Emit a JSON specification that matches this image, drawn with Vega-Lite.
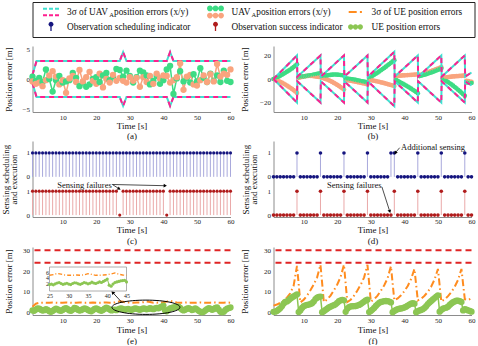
{
"$schema": "https://vega.github.io/schema/vega-lite/v6.json",
"background": "white",
"padding": {"left": 0.5, "top": 1, "right": 0, "bottom": 0},
"config": {
  "font": "Liberation Serif",
  "view": {"stroke": null},
  "axis": {"labelFont": "Liberation Serif", "titleFont": "Liberation Serif", "labelFontSize": 7, "titleFontSize": 9, "titleFontWeight": "normal", "titleColor": "#111", "labelColor": "#222", "domainColor": "#8c8c8c", "domainWidth": 1, "ticks": false, "grid": false, "labelOverlap": false},
  "axisX": {"labelPadding": 2, "titlePadding": 0, "titleLineHeight": 11, "labelFlush": false, "labelOverlap": false},
  "axisY": {"labelPadding": 3, "titlePadding": 7, "minExtent": 12, "maxExtent": 12},
  "text": {"font": "Liberation Serif"}
},
"datasets": {
  "leg": [
    {"id": "e1", "col": 1, "row": 1, "label": "3σ of UAV", "sub": "A", "rest": " position errors (x/y)"},
    {"id": "e2", "col": 2, "row": 1, "label": "UAV", "sub": "A", "rest": " position errors (x/y)"},
    {"id": "e3", "col": 3, "row": 1, "label": "3σ of UE position errors"},
    {"id": "e4", "col": 1, "row": 2, "label": "Observation scheduling indicator"},
    {"id": "e5", "col": 2, "row": 2, "label": "Observation success indicator"},
    {"id": "e6", "col": 3, "row": 2, "label": "UE position errors"}
  ],
  "a_bnd": [{"t":1,"hi":0.7,"lo":-0.7},{"t":2.2,"hi":3,"lo":-3},{"t":27,"hi":3,"lo":-3},{"t":28,"hi":4.5,"lo":-4.5},{"t":29,"hi":3,"lo":-3},{"t":41,"hi":3,"lo":-3},{"t":42,"hi":4.5,"lo":-4.5},{"t":43,"hi":3,"lo":-3},{"t":60,"hi":3,"lo":-3}],
  "a_err": [{"t":1,"x":0.4,"y":-0.4},{"t":2,"x":-0.3,"y":-0.8},{"t":3,"x":0.2,"y":-0.6},{"t":4,"x":-0.5,"y":-1.2},{"t":5,"x":1.6,"y":-0.2},{"t":6,"x":0.0,"y":0.6},{"t":7,"x":-2.1,"y":1.3},{"t":8,"x":-0.2,"y":0.4},{"t":9,"x":0.5,"y":-0.9},{"t":10,"x":-0.6,"y":-0.2},{"t":11,"x":-0.4,"y":-2.3},{"t":12,"x":-0.2,"y":0.1},{"t":13,"x":1.0,"y":0.5},{"t":14,"x":0.2,"y":-0.5},{"t":15,"x":-1.2,"y":1.5},{"t":16,"x":-0.6,"y":-0.4},{"t":17,"x":-1.3,"y":0.3},{"t":18,"x":-0.9,"y":1.2},{"t":19,"x":0.0,"y":-0.3},{"t":20,"x":0.3,"y":-0.8},{"t":21,"x":-0.5,"y":0.9},{"t":22,"x":0.6,"y":-1.4},{"t":23,"x":1.0,"y":0.0},{"t":24,"x":-0.2,"y":-0.6},{"t":25,"x":0.4,"y":0.7},{"t":26,"x":1.7,"y":-0.3},{"t":27,"x":1.5,"y":0.2},{"t":28,"x":0.4,"y":-0.3},{"t":29,"x":1.4,"y":-0.6},{"t":30,"x":0.5,"y":0.3},{"t":31,"x":-0.6,"y":-0.3},{"t":32,"x":0.3,"y":0.2},{"t":33,"x":1.4,"y":-1.3},{"t":34,"x":1.1,"y":0.3},{"t":35,"x":0.6,"y":-0.5},{"t":36,"x":-0.9,"y":0.5},{"t":37,"x":-0.3,"y":-0.8},{"t":38,"x":0.5,"y":0.9},{"t":39,"x":-0.8,"y":0.1},{"t":40,"x":-0.2,"y":0.6},{"t":41,"x":1.6,"y":0.5},{"t":42,"x":2.2,"y":-0.6},{"t":43,"x":-2.5,"y":-0.2},{"t":44,"x":0.1,"y":0.3},{"t":45,"x":1.3,"y":2.6},{"t":46,"x":-0.4,"y":-1.8},{"t":47,"x":0.2,"y":0.4},{"t":48,"x":-0.6,"y":0.7},{"t":49,"x":0.8,"y":-0.9},{"t":50,"x":-0.4,"y":-1.1},{"t":51,"x":1.8,"y":-0.2},{"t":52,"x":0.2,"y":0.6},{"t":53,"x":-0.5,"y":-0.5},{"t":54,"x":0.9,"y":0.8},{"t":55,"x":-0.3,"y":-0.4},{"t":56,"x":0.6,"y":2.5},{"t":57,"x":-0.5,"y":0.4},{"t":58,"x":1.4,"y":0.9},{"t":59,"x":-0.3,"y":0.7},{"t":60,"x":-0.5,"y":1.6}],
  "b_bnd": [{"t":1,"hi":0,"lo":0},{"t":8,"hi":20,"lo":-20},{"t":8.1,"hi":2,"lo":-2},{"t":15,"hi":20,"lo":-20},{"t":15.1,"hi":2,"lo":-2},{"t":22,"hi":20,"lo":-20},{"t":22.1,"hi":2,"lo":-2},{"t":29,"hi":20,"lo":-20},{"t":29.1,"hi":2,"lo":-2},{"t":37,"hi":23,"lo":-23},{"t":37.1,"hi":2,"lo":-2},{"t":44,"hi":20,"lo":-20},{"t":44.1,"hi":2,"lo":-2},{"t":51,"hi":20,"lo":-20},{"t":51.1,"hi":2,"lo":-2},{"t":58,"hi":20,"lo":-20},{"t":58.1,"hi":2,"lo":-2},{"t":60,"hi":5.5,"lo":-5.5}],
  "b_err": [{"t":1,"x":0,"y":0},{"t":1.5,"x":0.6,"y":-0.5},{"t":2,"x":1.3,"y":-1.1},{"t":2.5,"x":2.0,"y":-1.7},{"t":3,"x":2.8,"y":-2.4},{"t":3.5,"x":3.6,"y":-3.1},{"t":4,"x":4.4,"y":-3.9},{"t":4.5,"x":5.3,"y":-4.7},{"t":5,"x":6.2,"y":-5.6},{"t":5.5,"x":7.1,"y":-6.5},{"t":6,"x":8.0,"y":-7.4},{"t":6.5,"x":9.0,"y":-8.4},{"t":7,"x":10.1,"y":-9.5},{"t":7.5,"x":11.3,"y":-10.6},{"t":8,"x":12.5,"y":-11.8},
    {"t":8.5,"x":1.6,"y":1.0},{"t":9,"x":1.9,"y":1.4},{"t":9.5,"x":2.1,"y":1.8},{"t":10,"x":2.3,"y":2.1},{"t":10.5,"x":2.5,"y":2.4},{"t":11,"x":2.7,"y":2.6},{"t":11.5,"x":2.9,"y":2.7},{"t":12,"x":3.1,"y":2.7},{"t":12.5,"x":3.4,"y":2.6},{"t":13,"x":3.7,"y":2.4},{"t":13.5,"x":4.0,"y":2.2},{"t":14,"x":4.3,"y":2.0},{"t":14.5,"x":4.6,"y":1.8},{"t":15,"x":5.0,"y":1.6},
    {"t":15.5,"x":2.4,"y":1.0},{"t":16,"x":2.6,"y":0.6},{"t":16.5,"x":2.9,"y":0.1},{"t":17,"x":3.1,"y":-0.5},{"t":17.5,"x":3.3,"y":-1.1},{"t":18,"x":3.5,"y":-1.8},{"t":18.5,"x":3.7,"y":-2.5},{"t":19,"x":3.8,"y":-3.3},{"t":19.5,"x":3.8,"y":-4.1},{"t":20,"x":3.7,"y":-5.0},{"t":20.5,"x":3.6,"y":-5.9},{"t":21,"x":3.4,"y":-6.9},{"t":21.5,"x":3.2,"y":-7.9},{"t":22,"x":3.0,"y":-9.0},
    {"t":22.5,"x":0.6,"y":-0.8},{"t":23,"x":0.4,"y":-1.0},{"t":23.5,"x":0.2,"y":-1.2},{"t":24,"x":0.0,"y":-1.5},{"t":24.5,"x":-0.2,"y":-1.8},{"t":25,"x":-0.5,"y":-2.0},{"t":25.5,"x":-0.8,"y":-2.3},{"t":26,"x":-1.1,"y":-2.6},{"t":26.5,"x":-1.4,"y":-2.9},{"t":27,"x":-1.7,"y":-3.2},{"t":27.5,"x":-2.0,"y":-3.5},{"t":28,"x":-2.3,"y":-3.8},{"t":28.5,"x":-2.6,"y":-4.1},{"t":29,"x":-2.9,"y":-4.4},
    {"t":29.5,"x":1.0,"y":-0.6},{"t":30,"x":1.8,"y":-0.9},{"t":30.5,"x":2.7,"y":-1.2},{"t":31,"x":3.6,"y":-1.5},{"t":31.5,"x":4.5,"y":-1.8},{"t":32,"x":5.4,"y":-2.1},{"t":32.5,"x":6.4,"y":-2.4},{"t":33,"x":7.4,"y":-2.8},{"t":33.5,"x":8.4,"y":-3.1},{"t":34,"x":9.4,"y":-3.5},{"t":34.5,"x":10.5,"y":-3.9},{"t":35,"x":11.6,"y":-4.3},{"t":35.5,"x":12.7,"y":-4.7},{"t":36,"x":13.8,"y":-5.1},{"t":36.5,"x":14.9,"y":-5.5},{"t":37,"x":16.0,"y":-6.0},
    {"t":37.5,"x":-0.8,"y":2.6},{"t":38,"x":-1.6,"y":2.7},{"t":38.5,"x":-2.4,"y":2.8},{"t":39,"x":-3.2,"y":2.9},{"t":39.5,"x":-4.0,"y":3.0},{"t":40,"x":-4.8,"y":3.1},{"t":40.5,"x":-5.6,"y":3.2},{"t":41,"x":-6.4,"y":3.3},{"t":41.5,"x":-7.3,"y":3.4},{"t":42,"x":-8.2,"y":3.5},{"t":42.5,"x":-9.1,"y":3.6},{"t":43,"x":-10.0,"y":3.7},{"t":43.5,"x":-11.0,"y":3.8},{"t":44,"x":-12.0,"y":4.0},
    {"t":44.5,"x":2.5,"y":3.3},{"t":45,"x":2.9,"y":3.8},{"t":45.5,"x":3.3,"y":4.3},{"t":46,"x":3.7,"y":4.8},{"t":46.5,"x":4.1,"y":5.3},{"t":47,"x":4.6,"y":5.8},{"t":47.5,"x":5.1,"y":6.3},{"t":48,"x":5.6,"y":6.8},{"t":48.5,"x":6.1,"y":7.3},{"t":49,"x":6.6,"y":7.8},{"t":49.5,"x":7.2,"y":8.4},{"t":50,"x":7.8,"y":8.9},{"t":50.5,"x":8.4,"y":9.4},{"t":51,"x":9.0,"y":10.0},
    {"t":51.5,"x":0.4,"y":1.0},{"t":52,"x":-0.6,"y":1.2},{"t":52.5,"x":-1.6,"y":1.4},{"t":53,"x":-2.6,"y":1.6},{"t":53.5,"x":-3.6,"y":1.8},{"t":54,"x":-4.6,"y":2.0},{"t":54.5,"x":-5.7,"y":2.2},{"t":55,"x":-6.8,"y":2.3},{"t":55.5,"x":-7.9,"y":2.4},{"t":56,"x":-9.1,"y":2.5},{"t":56.5,"x":-10.3,"y":2.6},{"t":57,"x":-11.6,"y":2.7},{"t":57.5,"x":-12.9,"y":2.8},{"t":58,"x":-14.3,"y":2.9},
    {"t":58.5,"x":-2.8,"y":-1.5},{"t":59,"x":-3.0,"y":-1.8},{"t":59.5,"x":-3.2,"y":-2.1},{"t":60,"x":-3.4,"y":-2.4}],
  "c_st": [{"t":1,"sched":1,"ok":1},{"t":2,"sched":1,"ok":1},{"t":3,"sched":1,"ok":1},{"t":4,"sched":1,"ok":1},{"t":5,"sched":1,"ok":1},{"t":6,"sched":1,"ok":1},{"t":7,"sched":1,"ok":1},{"t":8,"sched":1,"ok":1},{"t":9,"sched":1,"ok":1},{"t":10,"sched":1,"ok":1},{"t":11,"sched":1,"ok":1},{"t":12,"sched":1,"ok":1},{"t":13,"sched":1,"ok":1},{"t":14,"sched":1,"ok":1},{"t":15,"sched":1,"ok":1},{"t":16,"sched":1,"ok":1},{"t":17,"sched":1,"ok":1},{"t":18,"sched":1,"ok":1},{"t":19,"sched":1,"ok":1},{"t":20,"sched":1,"ok":1},{"t":21,"sched":1,"ok":1},{"t":22,"sched":1,"ok":1},{"t":23,"sched":1,"ok":1},{"t":24,"sched":1,"ok":1},{"t":25,"sched":1,"ok":1},{"t":26,"sched":1,"ok":1},{"t":27,"sched":1,"ok":0},{"t":28,"sched":1,"ok":1},{"t":29,"sched":1,"ok":1},{"t":30,"sched":1,"ok":1},{"t":31,"sched":1,"ok":1},{"t":32,"sched":1,"ok":1},{"t":33,"sched":1,"ok":1},{"t":34,"sched":1,"ok":1},{"t":35,"sched":1,"ok":1},{"t":36,"sched":1,"ok":1},{"t":37,"sched":1,"ok":1},{"t":38,"sched":1,"ok":1},{"t":39,"sched":1,"ok":1},{"t":40,"sched":1,"ok":1},{"t":41,"sched":1,"ok":0},{"t":42,"sched":1,"ok":1},{"t":43,"sched":1,"ok":1},{"t":44,"sched":1,"ok":1},{"t":45,"sched":1,"ok":1},{"t":46,"sched":1,"ok":1},{"t":47,"sched":1,"ok":1},{"t":48,"sched":1,"ok":1},{"t":49,"sched":1,"ok":1},{"t":50,"sched":1,"ok":1},{"t":51,"sched":1,"ok":1},{"t":52,"sched":1,"ok":1},{"t":53,"sched":1,"ok":1},{"t":54,"sched":1,"ok":1},{"t":55,"sched":1,"ok":1},{"t":56,"sched":1,"ok":1},{"t":57,"sched":1,"ok":1},{"t":58,"sched":1,"ok":1},{"t":59,"sched":1,"ok":1},{"t":60,"sched":1,"ok":1}],
  "c_txt": [{"t":16.5,"v":1.27,"label":"Sensing failures"}],
  "c_arr": [{"id":1,"t":24.8,"v":1.28,"t2":26.7,"v2":1.11},{"id":2,"t":24.8,"v":1.28,"t2":40.4,"v2":1.23}],
  "d_st": [{"t":1,"sched":0,"ok":0},{"t":2,"sched":0,"ok":0},{"t":3,"sched":0,"ok":0},{"t":4,"sched":0,"ok":0},{"t":5,"sched":0,"ok":0},{"t":6,"sched":0,"ok":0},{"t":7,"sched":0,"ok":0},{"t":8,"sched":1,"ok":1},{"t":9,"sched":0,"ok":0},{"t":10,"sched":0,"ok":0},{"t":11,"sched":0,"ok":0},{"t":12,"sched":0,"ok":0},{"t":13,"sched":0,"ok":0},{"t":14,"sched":0,"ok":0},{"t":15,"sched":1,"ok":1},{"t":16,"sched":0,"ok":0},{"t":17,"sched":0,"ok":0},{"t":18,"sched":0,"ok":0},{"t":19,"sched":0,"ok":0},{"t":20,"sched":0,"ok":0},{"t":21,"sched":0,"ok":0},{"t":22,"sched":1,"ok":1},{"t":23,"sched":0,"ok":0},{"t":24,"sched":0,"ok":0},{"t":25,"sched":0,"ok":0},{"t":26,"sched":0,"ok":0},{"t":27,"sched":0,"ok":0},{"t":28,"sched":0,"ok":0},{"t":29,"sched":1,"ok":1},{"t":30,"sched":0,"ok":0},{"t":31,"sched":0,"ok":0},{"t":32,"sched":0,"ok":0},{"t":33,"sched":0,"ok":0},{"t":34,"sched":0,"ok":0},{"t":35,"sched":0,"ok":0},{"t":36,"sched":1,"ok":0},{"t":37,"sched":1,"ok":1},{"t":38,"sched":0,"ok":0},{"t":39,"sched":0,"ok":0},{"t":40,"sched":0,"ok":0},{"t":41,"sched":0,"ok":0},{"t":42,"sched":0,"ok":0},{"t":43,"sched":0,"ok":0},{"t":44,"sched":1,"ok":1},{"t":45,"sched":0,"ok":0},{"t":46,"sched":0,"ok":0},{"t":47,"sched":0,"ok":0},{"t":48,"sched":0,"ok":0},{"t":49,"sched":0,"ok":0},{"t":50,"sched":0,"ok":0},{"t":51,"sched":1,"ok":1},{"t":52,"sched":0,"ok":0},{"t":53,"sched":0,"ok":0},{"t":54,"sched":0,"ok":0},{"t":55,"sched":0,"ok":0},{"t":56,"sched":0,"ok":0},{"t":57,"sched":0,"ok":0},{"t":58,"sched":1,"ok":1},{"t":59,"sched":0,"ok":0},{"t":60,"sched":0,"ok":0}],
  "d_txt": [{"grp":"b","t":39.0,"v":1.25,"label":"Additional sensing"},{"grp":"r","t":25.1,"v":1.27,"label":"Sensing failures"}],
  "d_arr": [{"grp":"b","t":38.6,"v":1.22,"t2":37.4,"v2":1.02},{"grp":"r","t":33.3,"v":1.18,"t2":35.6,"v2":0.17}],
  "lim": [{"v":30},{"v":24}],
  "e_sig": [{"t":1,"v":3.0},{"t":2,"v":4.4},{"t":3,"v":4.8},{"t":4,"v":4.9},{"t":5,"v":4.8},{"t":6,"v":4.9},{"t":7,"v":5.0},{"t":8,"v":4.9},{"t":9,"v":4.8},{"t":10,"v":4.9},{"t":11,"v":5.0},{"t":12,"v":4.9},{"t":13,"v":4.8},{"t":14,"v":4.9},{"t":15,"v":5.0},{"t":16,"v":4.9},{"t":17,"v":4.8},{"t":18,"v":4.9},{"t":19,"v":5.0},{"t":20,"v":4.9},{"t":21,"v":4.8},{"t":22,"v":4.9},{"t":23,"v":5.0},{"t":24,"v":4.9},{"t":25,"v":4.9},{"t":26,"v":5.1},{"t":27,"v":5.6},{"t":28,"v":5.3},{"t":29,"v":5.0},{"t":30,"v":4.9},{"t":31,"v":4.9},{"t":32,"v":5.0},{"t":33,"v":4.9},{"t":34,"v":5.1},{"t":35,"v":5.5},{"t":36,"v":5.2},{"t":37,"v":4.9},{"t":38,"v":4.9},{"t":39,"v":5.0},{"t":40,"v":5.1},{"t":41,"v":5.4},{"t":42,"v":5.8},{"t":43,"v":5.3},{"t":44,"v":5.0},{"t":45,"v":4.9},{"t":46,"v":4.9},{"t":47,"v":5.0},{"t":48,"v":4.9},{"t":49,"v":4.8},{"t":50,"v":4.9},{"t":51,"v":5.0},{"t":52,"v":4.9},{"t":53,"v":4.8},{"t":54,"v":4.9},{"t":55,"v":5.0},{"t":56,"v":4.9},{"t":57,"v":4.8},{"t":58,"v":4.9},{"t":59,"v":5.0},{"t":60,"v":4.9}],
  "e_err": [{"t":1,"v":1.2},{"t":1.5,"v":1.0},{"t":2,"v":1.6},{"t":2.5,"v":2.2},{"t":3,"v":2.0},{"t":3.5,"v":1.5},{"t":4,"v":1.1},{"t":4.5,"v":1.3},{"t":5,"v":1.8},{"t":5.5,"v":1.4},{"t":6,"v":0.8},{"t":6.5,"v":0.5},{"t":7,"v":0.9},{"t":7.5,"v":1.5},{"t":8,"v":2.0},{"t":8.5,"v":1.7},{"t":9,"v":1.2},{"t":9.5,"v":1.0},{"t":10,"v":1.4},{"t":10.5,"v":2.0},{"t":11,"v":2.3},{"t":11.5,"v":1.8},{"t":12,"v":1.2},{"t":12.5,"v":1.0},{"t":13,"v":1.6},{"t":13.5,"v":2.4},{"t":14,"v":2.1},{"t":14.5,"v":1.5},{"t":15,"v":1.1},{"t":15.5,"v":1.3},{"t":16,"v":1.8},{"t":16.5,"v":2.2},{"t":17,"v":1.9},{"t":17.5,"v":1.4},{"t":18,"v":1.0},{"t":18.5,"v":0.8},{"t":19,"v":1.3},{"t":19.5,"v":1.9},{"t":20,"v":2.2},{"t":20.5,"v":1.8},{"t":21,"v":1.3},{"t":21.5,"v":1.0},{"t":22,"v":1.4},{"t":22.5,"v":2.0},{"t":23,"v":2.5},{"t":23.5,"v":2.1},{"t":24,"v":1.6},{"t":24.5,"v":1.2},{"t":25,"v":1.4},{"t":25.5,"v":1.6},{"t":26,"v":1.3},{"t":26.5,"v":1.7},{"t":27,"v":2.0},{"t":27.5,"v":2.2},{"t":28,"v":1.8},{"t":28.5,"v":1.5},{"t":29,"v":1.7},{"t":29.5,"v":1.9},{"t":30,"v":1.6},{"t":30.5,"v":1.4},{"t":31,"v":1.8},{"t":31.5,"v":2.1},{"t":32,"v":2.0},{"t":32.5,"v":1.7},{"t":33,"v":1.5},{"t":33.5,"v":1.8},{"t":34,"v":2.2},{"t":34.5,"v":2.0},{"t":35,"v":1.7},{"t":35.5,"v":1.9},{"t":36,"v":2.3},{"t":36.5,"v":2.0},{"t":37,"v":1.8},{"t":37.5,"v":2.1},{"t":38,"v":2.4},{"t":38.5,"v":2.2},{"t":39,"v":2.6},{"t":39.5,"v":3.0},{"t":40,"v":3.5},{"t":40.5,"v":1.2},{"t":41,"v":0.8},{"t":41.5,"v":1.6},{"t":42,"v":2.2},{"t":42.5,"v":2.4},{"t":43,"v":2.6},{"t":43.5,"v":2.8},{"t":44,"v":2.9},{"t":44.5,"v":3.0},{"t":45,"v":2.4},{"t":45.5,"v":1.6},{"t":46,"v":1.2},{"t":46.5,"v":1.5},{"t":47,"v":2.0},{"t":47.5,"v":2.3},{"t":48,"v":1.9},{"t":48.5,"v":1.4},{"t":49,"v":1.6},{"t":49.5,"v":2.1},{"t":50,"v":1.7},{"t":50.5,"v":1.0},{"t":51,"v":0.6},{"t":51.5,"v":0.3},{"t":52,"v":0.5},{"t":52.5,"v":1.2},{"t":53,"v":1.8},{"t":53.5,"v":2.3},{"t":54,"v":2.0},{"t":54.5,"v":1.5},{"t":55,"v":1.8},{"t":55.5,"v":2.4},{"t":56,"v":2.6},{"t":56.5,"v":1.5},{"t":57,"v":0.5},{"t":57.5,"v":0.3},{"t":58,"v":0.6},{"t":58.5,"v":1.4},{"t":59,"v":2.0},{"t":59.5,"v":2.3},{"t":60,"v":2.6}],
  "e_ann": [{"kind":"ellipse","t":34.8,"v":2.7},{"kind":"arrow","t":27.7,"v":4.9,"t2":25.0,"v2":9.6}],
  "f_sig": [{"t":1,"v":3.5},{"t":2,"v":4.0},{"t":3,"v":4.8},{"t":4,"v":5.8},{"t":5,"v":7.3},{"t":6,"v":9.4},{"t":7,"v":13.0},{"t":8,"v":22.5},{"t":9,"v":5.0},{"t":10,"v":6.3},{"t":11,"v":8.3},{"t":12,"v":10.8},{"t":13,"v":13.6},{"t":14,"v":17.0},{"t":15,"v":23.0},{"t":16,"v":5.2},{"t":17,"v":6.4},{"t":18,"v":8.3},{"t":19,"v":10.8},{"t":20,"v":13.6},{"t":21,"v":17.2},{"t":22,"v":23.0},{"t":23,"v":5.2},{"t":24,"v":6.3},{"t":25,"v":8.2},{"t":26,"v":10.7},{"t":27,"v":13.5},{"t":28,"v":17.0},{"t":29,"v":23.0},{"t":30,"v":5.4},{"t":31,"v":6.5},{"t":32,"v":8.3},{"t":33,"v":10.6},{"t":34,"v":13.2},{"t":35,"v":16.6},{"t":36,"v":22.3},{"t":37,"v":6.0},{"t":38,"v":6.9},{"t":39,"v":8.4},{"t":40,"v":10.4},{"t":41,"v":12.9},{"t":42,"v":16.2},{"t":43,"v":21.0},{"t":44,"v":6.0},{"t":45,"v":6.8},{"t":46,"v":8.2},{"t":47,"v":10.1},{"t":48,"v":12.6},{"t":49,"v":16.0},{"t":50,"v":21.0},{"t":51,"v":5.5},{"t":52,"v":6.4},{"t":53,"v":8.0},{"t":54,"v":10.0},{"t":55,"v":12.5},{"t":56,"v":15.8},{"t":57,"v":21.0},{"t":58,"v":6.6},{"t":59,"v":6.2},{"t":60,"v":7.0}],
  "f_err": [{"t":1,"v":0.5},{"t":1.5,"v":0.6},{"t":2,"v":0.9},{"t":2.5,"v":1.5},{"t":3,"v":2.2},{"t":3.5,"v":3.2},{"t":4,"v":4.4},{"t":4.5,"v":5.2},{"t":5,"v":5.5},{"t":5.5,"v":6.0},{"t":6,"v":6.8},{"t":6.5,"v":7.4},{"t":7,"v":7.9},{"t":7.5,"v":8.4},{"t":8,"v":8.8},{"t":8.5,"v":0.4},{"t":9,"v":1.2},{"t":9.5,"v":2.4},{"t":10,"v":3.2},{"t":10.5,"v":3.6},{"t":11,"v":3.8},{"t":11.5,"v":4.0},{"t":12,"v":4.2},{"t":12.5,"v":4.6},{"t":13,"v":5.4},{"t":13.5,"v":6.6},{"t":14,"v":7.3},{"t":14.5,"v":7.6},{"t":15,"v":7.8},{"t":15.5,"v":0.3},{"t":16,"v":0.8},{"t":16.5,"v":1.4},{"t":17,"v":2.0},{"t":17.5,"v":2.6},{"t":18,"v":3.0},{"t":18.5,"v":3.4},{"t":19,"v":3.7},{"t":19.5,"v":4.1},{"t":20,"v":4.8},{"t":20.5,"v":5.6},{"t":21,"v":6.0},{"t":21.5,"v":6.2},{"t":22,"v":6.0},{"t":22.5,"v":0.5},{"t":23,"v":2.0},{"t":23.5,"v":2.8},{"t":24,"v":3.1},{"t":24.5,"v":3.2},{"t":25,"v":3.2},{"t":25.5,"v":3.3},{"t":26,"v":3.5},{"t":26.5,"v":3.8},{"t":27,"v":4.2},{"t":27.5,"v":4.8},{"t":28,"v":5.4},{"t":28.5,"v":6.0},{"t":29,"v":6.3},{"t":29.5,"v":0.4},{"t":30,"v":0.9},{"t":30.5,"v":1.6},{"t":31,"v":2.4},{"t":31.5,"v":3.3},{"t":32,"v":4.1},{"t":32.5,"v":4.8},{"t":33,"v":5.2},{"t":33.5,"v":5.4},{"t":34,"v":5.6},{"t":34.5,"v":5.7},{"t":35,"v":5.6},{"t":35.5,"v":5.4},{"t":36,"v":5.0},{"t":36.5,"v":0.3},{"t":37,"v":0.9},{"t":37.5,"v":1.4},{"t":38,"v":1.8},{"t":38.5,"v":2.0},{"t":39,"v":2.1},{"t":39.5,"v":2.3},{"t":40,"v":2.6},{"t":40.5,"v":3.0},{"t":41,"v":3.5},{"t":41.5,"v":4.0},{"t":42,"v":4.4},{"t":42.5,"v":4.6},{"t":43,"v":4.4},{"t":43.5,"v":0.3},{"t":44,"v":0.8},{"t":44.5,"v":1.2},{"t":45,"v":1.4},{"t":45.5,"v":1.8},{"t":46,"v":2.4},{"t":46.5,"v":3.2},{"t":47,"v":4.2},{"t":47.5,"v":5.0},{"t":48,"v":5.7},{"t":48.5,"v":6.4},{"t":49,"v":7.1},{"t":49.5,"v":7.8},{"t":50,"v":8.4},{"t":50.5,"v":0.6},{"t":51,"v":1.4},{"t":51.5,"v":2.0},{"t":52,"v":2.3},{"t":52.5,"v":2.5},{"t":53,"v":3.0},{"t":53.5,"v":3.8},{"t":54,"v":4.5},{"t":54.5,"v":5.1},{"t":55,"v":5.5},{"t":55.5,"v":5.8},{"t":56,"v":5.9},{"t":56.5,"v":5.6},{"t":57,"v":5.2},{"t":57.5,"v":1.2},{"t":58,"v":1.8},{"t":58.5,"v":1.6},{"t":59,"v":1.2},{"t":59.5,"v":0.9},{"t":60,"v":0.6}]
},
"align": "none",
"spacing": 6,
"vconcat": [
  {
    "width": 442, "height": 35,
    "view": {"stroke": "#222", "strokeWidth": 1},
    "data": {"name": "leg"},
    "encoding": {
      "x": {"field": "col", "type": "quantitative", "scale": {"domain": [1,2,3], "range": [18.5,183,323], "nice": false, "zero": false}, "axis": null},
      "y": {"field": "row", "type": "quantitative", "scale": {"domain": [1,2], "range": [10,25], "nice": false, "zero": false}, "axis": {"title": ["x","x"], "titleOpacity": 0, "labelOpacity": 0, "domain": false, "values": [1,2], "tickCount": 20, "titlePadding": 2.5, "titleLineHeight": 8}}
    },
    "layer": [
      {"transform": [{"filter": "datum.id=='e1'"}], "mark": {"type": "point", "shape": "M-1,-0.41H-0.5M-0.25,-0.41H0.25M0.5,-0.41H1", "size": 256, "filled": false, "stroke": "#3fe0d0", "strokeWidth": 2, "opacity": 1}},
      {"transform": [{"filter": "datum.id=='e1'"}], "mark": {"type": "point", "shape": "M-1,0.41H-0.5M-0.25,0.41H0.25M0.5,0.41H1", "size": 256, "filled": false, "stroke": "#ff1f8f", "strokeWidth": 2, "opacity": 1}},
      {"transform": [{"filter": "datum.id=='e2'"}], "mark": {"type": "point", "shape": "M-1.06,-0.44a0.36,0.36 0 1,0 0.72,0a0.36,0.36 0 1,0 -0.72,0M-0.36,-0.44a0.36,0.36 0 1,0 0.72,0a0.36,0.36 0 1,0 -0.72,0M0.34,-0.44a0.36,0.36 0 1,0 0.72,0a0.36,0.36 0 1,0 -0.72,0", "size": 256, "filled": true, "fill": "#3ddc84", "strokeWidth": 0, "opacity": 1}},
      {"transform": [{"filter": "datum.id=='e2'"}], "mark": {"type": "point", "shape": "M-1.06,0.44a0.36,0.36 0 1,0 0.72,0a0.36,0.36 0 1,0 -0.72,0M-0.36,0.44a0.36,0.36 0 1,0 0.72,0a0.36,0.36 0 1,0 -0.72,0M0.34,0.44a0.36,0.36 0 1,0 0.72,0a0.36,0.36 0 1,0 -0.72,0", "size": 256, "filled": true, "fill": "#f9a47e", "strokeWidth": 0, "opacity": 1}},
      {"transform": [{"filter": "datum.id=='e3'"}], "mark": {"type": "point", "shape": "M-0.85,0H0.15M0.55,0H0.8", "size": 256, "filled": false, "stroke": "#ff8c1f", "strokeWidth": 2, "opacity": 1}},
      {"transform": [{"filter": "datum.id=='e4'"}], "mark": {"type": "point", "shape": "M0,-0.35V0.5", "size": 256, "filled": false, "stroke": "#15157f", "strokeWidth": 1.3, "opacity": 1}},
      {"transform": [{"filter": "datum.id=='e4'"}], "mark": {"type": "point", "shape": "M-0.3,-0.35a0.3,0.3 0 1,0 0.6,0a0.3,0.3 0 1,0 -0.6,0", "size": 256, "filled": true, "fill": "#15157f", "strokeWidth": 0, "opacity": 1}},
      {"transform": [{"filter": "datum.id=='e5'"}], "mark": {"type": "point", "shape": "M0,-0.35V0.5", "size": 256, "filled": false, "stroke": "#b01c1c", "strokeWidth": 1.3, "opacity": 1}},
      {"transform": [{"filter": "datum.id=='e5'"}], "mark": {"type": "point", "shape": "M-0.3,-0.35a0.3,0.3 0 1,0 0.6,0a0.3,0.3 0 1,0 -0.6,0", "size": 256, "filled": true, "fill": "#b01c1c", "strokeWidth": 0, "opacity": 1}},
      {"transform": [{"filter": "datum.id=='e6'"}], "mark": {"type": "point", "shape": "M-0.93,0a0.33,0.33 0 1,0 0.66,0a0.33,0.33 0 1,0 -0.66,0M-0.33,0a0.33,0.33 0 1,0 0.66,0a0.33,0.33 0 1,0 -0.66,0M0.27,0a0.33,0.33 0 1,0 0.66,0a0.33,0.33 0 1,0 -0.66,0", "size": 256, "filled": true, "fill": "#8cc653", "strokeWidth": 0, "opacity": 1}},
      {"mark": {"type": "text", "align": "left", "baseline": "middle", "dx": 16, "fontSize": 9.3, "color": "#111"}, "encoding": {"text": {"field": "label"}}},
      {"transform": [{"filter": "datum.id=='e1'"}], "mark": {"type": "text", "align": "left", "baseline": "middle", "dx": 58.3, "dy": 2.5, "fontSize": 6.5, "color": "#111"}, "encoding": {"text": {"field": "sub"}}},
      {"transform": [{"filter": "datum.id=='e1'"}], "mark": {"type": "text", "align": "left", "baseline": "middle", "dx": 63, "fontSize": 9.3, "color": "#111"}, "encoding": {"text": {"field": "rest"}}},
      {"transform": [{"filter": "datum.id=='e2'"}], "mark": {"type": "text", "align": "left", "baseline": "middle", "dx": 36.1, "dy": 2.5, "fontSize": 6.5, "color": "#111"}, "encoding": {"text": {"field": "sub"}}},
      {"transform": [{"filter": "datum.id=='e2'"}], "mark": {"type": "text", "align": "left", "baseline": "middle", "dx": 40.8, "fontSize": 9.3, "color": "#111"}, "encoding": {"text": {"field": "rest"}}}
    ]
  },
  {
    "columns": 2,
    "spacing": {"row": 0, "column": 5},
    "concat": [
      {
        "width": 198, "height": 66,
        "encoding": {
          "x": {"field": "t", "type": "quantitative", "scale": {"domain": [1,60], "nice": false, "zero": false}, "axis": {"title": ["Time [s]","(a)"], "values": [10,20,30,40,50,60], "tickCount": 20, "labelOverlap": false, "labelPadding": 1.5, "titlePadding": 0.8, "titleLineHeight": 10}},
          "y": {"field": "v", "type": "quantitative", "scale": {"domain": [-5.5,5.5], "nice": false, "zero": false}, "axis": {"title": "Position error [m]", "values": [-5,0,5], "tickCount": 20, "format": "d"}}
        },
        "layer": [
          {"data": {"name": "a_bnd"}, "transform": [{"fold": ["hi","lo"], "as": ["b","v"]}], "mark": {"type": "line", "color": "#3fe0d0", "strokeWidth": 2}, "encoding": {"detail": {"field": "b", "type": "nominal"}}},
          {"data": {"name": "a_bnd"}, "transform": [{"fold": ["hi","lo"], "as": ["b","v"]}], "mark": {"type": "line", "color": "#ff1f8f", "strokeWidth": 2, "strokeDash": [5,4]}, "encoding": {"detail": {"field": "b", "type": "nominal"}}},
          {"data": {"name": "a_err"}, "transform": [{"fold": ["x","y"], "as": ["s","v"]}], "mark": {"type": "line", "strokeWidth": 1.5}, "encoding": {"color": {"field": "s", "type": "nominal", "scale": {"domain": ["x","y"], "range": ["#3ddc84","#f9a47e"]}, "legend": null}}},
          {"data": {"name": "a_err"}, "transform": [{"fold": ["x","y"], "as": ["s","v"]}], "mark": {"type": "point", "filled": true, "size": 40, "opacity": 1}, "encoding": {"color": {"field": "s", "type": "nominal", "scale": {"domain": ["x","y"], "range": ["#3ddc84","#f9a47e"]}, "legend": null}}}
        ]
      },
      {
        "width": 198, "height": 66,
        "encoding": {
          "x": {"field": "t", "type": "quantitative", "scale": {"domain": [1,60], "nice": false, "zero": false}, "axis": {"title": ["Time [s]","(b)"], "values": [10,20,30,40,50,60], "tickCount": 20, "labelOverlap": false, "labelPadding": 1.5, "titlePadding": 0.8, "titleLineHeight": 10}},
          "y": {"field": "v", "type": "quantitative", "scale": {"domain": [-28,28], "nice": false, "zero": false}, "axis": {"title": "Position error [m]", "values": [-20,0,20], "tickCount": 20, "format": "d", "titlePadding": 12.1}}
        },
        "layer": [
          {"data": {"name": "b_err"}, "transform": [{"fold": ["y","x"], "as": ["s","v"]}], "mark": {"type": "point", "filled": true, "size": 22, "opacity": 1}, "encoding": {"color": {"field": "s", "type": "nominal", "scale": {"domain": ["x","y"], "range": ["#3ddc84","#f9a47e"]}, "legend": null}}},
          {"data": {"name": "b_bnd"}, "transform": [{"fold": ["hi","lo"], "as": ["b","v"]}], "mark": {"type": "line", "color": "#3fe0d0", "strokeWidth": 2}, "encoding": {"detail": {"field": "b", "type": "nominal"}}},
          {"data": {"name": "b_bnd"}, "transform": [{"fold": ["hi","lo"], "as": ["b","v"]}], "mark": {"type": "line", "color": "#ff1f8f", "strokeWidth": 2, "strokeDash": [5,4]}, "encoding": {"detail": {"field": "b", "type": "nominal"}}}
        ]
      },
      {
        "width": 198, "height": 76,
        "resolve": {"scale": {"y": "independent"}},
        "layer": [
          {
            "data": {"name": "c_st"},
            "encoding": {"y": {"field": "sched", "type": "quantitative", "scale": {"domain": [-1.68,1.5], "nice": false, "zero": false}, "axis": {"orient": "left", "values": [0,1], "tickCount": 20, "format": "d", "title": null, "domain": false}}},
            "layer": [
              {"mark": {"type": "rule", "color": "#a9a9dc", "strokeWidth": 1}, "encoding": {"x": {"field": "t", "type": "quantitative", "scale": {"domain": [1,60], "nice": false, "zero": false}, "axis": {"title": ["Time [s]","(c)"], "values": [10,20,30,40,50,60], "tickCount": 20, "labelOverlap": false, "labelPadding": 0.5, "titlePadding": 1.2, "titleLineHeight": 10.5}}, "y2": {"datum": 0}}},
              {"mark": {"type": "point", "filled": true, "size": 10, "opacity": 1, "color": "#15157f"}, "encoding": {"x": {"field": "t", "type": "quantitative", "scale": {"domain": [1,60], "nice": false, "zero": false}}}}
            ]
          },
          {
            "encoding": {"y": {"field": "ok", "type": "quantitative", "scale": {"domain": [-0.08,3.1], "nice": false, "zero": false}, "axis": {"orient": "left", "values": [0,1], "tickCount": 20, "format": "d", "title": ["Sensing scheduling","and execution"], "titlePadding": 1.7, "titleLineHeight": 8}}},
            "layer": [
              {"data": {"name": "c_st"}, "mark": {"type": "rule", "color": "#eaa9a9", "strokeWidth": 1}, "encoding": {"x": {"field": "t", "type": "quantitative", "scale": {"domain": [1,60], "nice": false, "zero": false}}, "y2": {"datum": 0}}},
              {"data": {"name": "c_st"}, "mark": {"type": "point", "filled": true, "size": 10, "opacity": 1, "color": "#b01c1c"}, "encoding": {"x": {"field": "t", "type": "quantitative", "scale": {"domain": [1,60], "nice": false, "zero": false}}}},
              {"data": {"name": "c_txt"}, "mark": {"type": "text", "fontSize": 8.5, "baseline": "middle", "color": "#111"}, "encoding": {"x": {"field": "t", "type": "quantitative", "scale": {"domain": [1,60], "nice": false, "zero": false}}, "y": {"field": "v", "type": "quantitative", "scale": {"domain": [-0.08,3.1], "nice": false, "zero": false}}, "text": {"field": "label"}}},
              {"data": {"name": "c_arr"}, "mark": {"type": "rule", "color": "#000", "strokeWidth": 0.7}, "encoding": {"x": {"field": "t", "type": "quantitative", "scale": {"domain": [1,60], "nice": false, "zero": false}}, "x2": {"field": "t2"}, "y": {"field": "v", "type": "quantitative", "scale": {"domain": [-0.08,3.1], "nice": false, "zero": false}}, "y2": {"field": "v2"}}},
              {"data": {"name": "c_arr"}, "transform": [{"filter": "datum.id==1"}], "mark": {"type": "point", "shape": "triangle", "angle": 121.6, "filled": true, "size": 14, "opacity": 1, "color": "#000"}, "encoding": {"x": {"field": "t2", "type": "quantitative", "scale": {"domain": [1,60], "nice": false, "zero": false}}, "y": {"field": "v2", "type": "quantitative", "scale": {"domain": [-0.08,3.1], "nice": false, "zero": false}}}},
              {"data": {"name": "c_arr"}, "transform": [{"filter": "datum.id==2"}], "mark": {"type": "point", "shape": "triangle", "angle": 93.1, "filled": true, "size": 14, "opacity": 1, "color": "#000"}, "encoding": {"x": {"field": "t2", "type": "quantitative", "scale": {"domain": [1,60], "nice": false, "zero": false}}, "y": {"field": "v2", "type": "quantitative", "scale": {"domain": [-0.08,3.1], "nice": false, "zero": false}}}}
            ]
          }
        ]
      },
      {
        "width": 198, "height": 76,
        "resolve": {"scale": {"y": "independent"}},
        "layer": [
          {
            "encoding": {"y": {"field": "sched", "type": "quantitative", "scale": {"domain": [-1.68,1.5], "nice": false, "zero": false}, "axis": {"orient": "left", "values": [0,1], "tickCount": 20, "format": "d", "title": null, "domain": false}}},
            "layer": [
              {"data": {"name": "d_st"}, "mark": {"type": "rule", "color": "#a9a9dc", "strokeWidth": 1}, "encoding": {"x": {"field": "t", "type": "quantitative", "scale": {"domain": [1,60], "nice": false, "zero": false}, "axis": {"title": ["Time [s]","(d)"], "values": [10,20,30,40,50,60], "tickCount": 20, "labelOverlap": false, "labelPadding": 0.5, "titlePadding": 1.2, "titleLineHeight": 10.5}}, "y2": {"datum": 0}}},
              {"data": {"name": "d_st"}, "mark": {"type": "point", "filled": true, "size": 13, "opacity": 1, "color": "#15157f"}, "encoding": {"x": {"field": "t", "type": "quantitative", "scale": {"domain": [1,60], "nice": false, "zero": false}}}},
              {"data": {"name": "d_txt"}, "transform": [{"filter": "datum.grp=='b'"}], "mark": {"type": "text", "fontSize": 8.5, "align": "left", "baseline": "middle", "color": "#111"}, "encoding": {"x": {"field": "t", "type": "quantitative", "scale": {"domain": [1,60], "nice": false, "zero": false}}, "y": {"field": "v", "type": "quantitative", "scale": {"domain": [-1.68,1.5], "nice": false, "zero": false}}, "text": {"field": "label"}}},
              {"data": {"name": "d_arr"}, "transform": [{"filter": "datum.grp=='b'"}], "mark": {"type": "rule", "color": "#000", "strokeWidth": 0.7}, "encoding": {"x": {"field": "t", "type": "quantitative", "scale": {"domain": [1,60], "nice": false, "zero": false}}, "x2": {"field": "t2"}, "y": {"field": "v", "type": "quantitative", "scale": {"domain": [-1.68,1.5], "nice": false, "zero": false}}, "y2": {"field": "v2"}}},
              {"data": {"name": "d_arr"}, "transform": [{"filter": "datum.grp=='b'"}], "mark": {"type": "point", "shape": "triangle", "angle": 220, "filled": true, "size": 14, "opacity": 1, "color": "#000"}, "encoding": {"x": {"field": "t2", "type": "quantitative", "scale": {"domain": [1,60], "nice": false, "zero": false}}, "y": {"field": "v2", "type": "quantitative", "scale": {"domain": [-1.68,1.5], "nice": false, "zero": false}}}}
            ]
          },
          {
            "encoding": {"y": {"field": "ok", "type": "quantitative", "scale": {"domain": [-0.08,3.1], "nice": false, "zero": false}, "axis": {"orient": "left", "values": [0,1], "tickCount": 20, "format": "d", "title": ["Sensing scheduling","and execution"], "titlePadding": 3.1, "titleLineHeight": 8}}},
            "layer": [
              {"data": {"name": "d_st"}, "mark": {"type": "rule", "color": "#eaa9a9", "strokeWidth": 1}, "encoding": {"x": {"field": "t", "type": "quantitative", "scale": {"domain": [1,60], "nice": false, "zero": false}}, "y2": {"datum": 0}}},
              {"data": {"name": "d_st"}, "mark": {"type": "point", "filled": true, "size": 13, "opacity": 1, "color": "#b01c1c"}, "encoding": {"x": {"field": "t", "type": "quantitative", "scale": {"domain": [1,60], "nice": false, "zero": false}}}},
              {"data": {"name": "d_txt"}, "transform": [{"filter": "datum.grp=='r'"}], "mark": {"type": "text", "fontSize": 8.5, "baseline": "middle", "color": "#111"}, "encoding": {"x": {"field": "t", "type": "quantitative", "scale": {"domain": [1,60], "nice": false, "zero": false}}, "y": {"field": "v", "type": "quantitative", "scale": {"domain": [-0.08,3.1], "nice": false, "zero": false}}, "text": {"field": "label"}}},
              {"data": {"name": "d_arr"}, "transform": [{"filter": "datum.grp=='r'"}], "mark": {"type": "rule", "color": "#000", "strokeWidth": 0.7}, "encoding": {"x": {"field": "t", "type": "quantitative", "scale": {"domain": [1,60], "nice": false, "zero": false}}, "x2": {"field": "t2"}, "y": {"field": "v", "type": "quantitative", "scale": {"domain": [-0.08,3.1], "nice": false, "zero": false}}, "y2": {"field": "v2"}}},
              {"data": {"name": "d_arr"}, "transform": [{"filter": "datum.grp=='r'"}], "mark": {"type": "point", "shape": "triangle", "angle": 162, "filled": true, "size": 14, "opacity": 1, "color": "#000"}, "encoding": {"x": {"field": "t2", "type": "quantitative", "scale": {"domain": [1,60], "nice": false, "zero": false}}, "y": {"field": "v2", "type": "quantitative", "scale": {"domain": [-0.08,3.1], "nice": false, "zero": false}}}}
            ]
          }
        ]
      },
      {
        "width": 198, "height": 68,
        "resolve": {"scale": {"x": "independent", "y": "independent"}},
        "layer": [
          {
            "layer": [
              {"data": {"name": "lim"}, "mark": {"type": "rule", "color": "#e02424", "strokeWidth": 2, "strokeDash": [6,4]}, "encoding": {"y": {"field": "v", "type": "quantitative", "scale": {"domain": [-1,31.5], "nice": false, "zero": false}, "axis": {"orient": "left", "title": "Position error [m]", "values": [0,10,20,30], "tickCount": 20, "format": "d"}}}},
              {"data": {"name": "e_sig"}, "mark": {"type": "line", "color": "#ff8c1f", "strokeWidth": 2, "strokeDash": [7,3,1.5,3]}, "encoding": {"x": {"field": "t", "type": "quantitative", "scale": {"domain": [1,60], "nice": false, "zero": false}, "axis": {"orient": "bottom", "title": ["Time [s]","(e)"], "values": [10,20,30,40,50,60], "tickCount": 20, "labelOverlap": false, "labelPadding": 1.5, "titlePadding": 1.5, "titleLineHeight": 11}}, "y": {"field": "v", "type": "quantitative", "scale": {"domain": [-1,31.5], "nice": false, "zero": false}}}},
              {"data": {"name": "e_err"}, "mark": {"type": "line", "color": "#8cc653", "strokeWidth": 1.5}, "encoding": {"x": {"field": "t", "type": "quantitative", "scale": {"domain": [1,60], "nice": false, "zero": false}}, "y": {"field": "v", "type": "quantitative", "scale": {"domain": [-1,31.5], "nice": false, "zero": false}}}},
              {"data": {"name": "e_err"}, "mark": {"type": "point", "filled": true, "size": 40, "opacity": 1, "color": "#8cc653"}, "encoding": {"x": {"field": "t", "type": "quantitative", "scale": {"domain": [1,60], "nice": false, "zero": false}}, "y": {"field": "v", "type": "quantitative", "scale": {"domain": [-1,31.5], "nice": false, "zero": false}}}},
              {"data": {"name": "e_ann"}, "transform": [{"filter": "datum.kind=='ellipse'"}], "mark": {"type": "point", "shape": "M-1,0A1,0.21 0 1,0 1,0A1,0.21 0 1,0 -1,0", "size": 4624, "filled": false, "stroke": "#000", "strokeWidth": 1, "opacity": 1}, "encoding": {"x": {"field": "t", "type": "quantitative", "scale": {"domain": [1,60], "nice": false, "zero": false}}, "y": {"field": "v", "type": "quantitative", "scale": {"domain": [-1,31.5], "nice": false, "zero": false}}}},
              {"data": {"name": "e_ann"}, "transform": [{"filter": "datum.kind=='arrow'"}], "mark": {"type": "rule", "color": "#000", "strokeWidth": 0.8}, "encoding": {"x": {"field": "t", "type": "quantitative", "scale": {"domain": [1,60], "nice": false, "zero": false}}, "x2": {"field": "t2"}, "y": {"field": "v", "type": "quantitative", "scale": {"domain": [-1,31.5], "nice": false, "zero": false}}, "y2": {"field": "v2"}}},
              {"data": {"name": "e_ann"}, "transform": [{"filter": "datum.kind=='arrow'"}], "mark": {"type": "point", "shape": "triangle", "angle": 317, "filled": true, "size": 16, "opacity": 1, "color": "#000"}, "encoding": {"x": {"field": "t2", "type": "quantitative", "scale": {"domain": [1,60], "nice": false, "zero": false}}, "y": {"field": "v2", "type": "quantitative", "scale": {"domain": [-1,31.5], "nice": false, "zero": false}}}}
            ]
          },
          {
            "layer": [
              {"data": {"values": [{}]}, "mark": {"type": "rect", "fill": "#ffffff", "stroke": "#9a9a9a", "strokeWidth": 0.8}, "encoding": {"x": {"datum": 25, "type": "quantitative", "scale": {"domain": [25,45], "range": [17,94], "nice": false, "zero": false}, "axis": {"orient": "bottom", "offset": -24, "title": null, "values": [25,30,35,40,45], "tickCount": 20, "format": "d", "labelFontSize": 6, "labelPadding": 1, "domain": false}}, "x2": {"datum": 45}, "y": {"datum": -1, "type": "quantitative", "scale": {"domain": [-1,8], "range": [44,20], "nice": false, "zero": false}, "axis": {"orient": "left", "offset": -17, "title": null, "values": [2,4,6], "tickCount": 20, "format": "d", "labelFontSize": 6, "labelPadding": 1, "domain": false}}, "y2": {"datum": 8}}},
              {"data": {"name": "e_sig"}, "transform": [{"filter": "datum.t>=25 && datum.t<=45"}], "mark": {"type": "line", "color": "#ff8c1f", "strokeWidth": 1.3, "strokeDash": [4,2,1,2]}, "encoding": {"x": {"field": "t", "type": "quantitative", "scale": {"domain": [25,45], "range": [17,94], "nice": false, "zero": false}}, "y": {"field": "v", "type": "quantitative", "scale": {"domain": [-1,8], "range": [44,20], "nice": false, "zero": false}}}},
              {"data": {"name": "e_err"}, "transform": [{"filter": "datum.t>=25 && datum.t<=45"}], "mark": {"type": "line", "color": "#8cc653", "strokeWidth": 1}, "encoding": {"x": {"field": "t", "type": "quantitative", "scale": {"domain": [25,45], "range": [17,94], "nice": false, "zero": false}}, "y": {"field": "v", "type": "quantitative", "scale": {"domain": [-1,8], "range": [44,20], "nice": false, "zero": false}}}},
              {"data": {"name": "e_err"}, "transform": [{"filter": "datum.t>=25 && datum.t<=45"}], "mark": {"type": "point", "filled": true, "size": 10, "opacity": 1, "color": "#8cc653"}, "encoding": {"x": {"field": "t", "type": "quantitative", "scale": {"domain": [25,45], "range": [17,94], "nice": false, "zero": false}}, "y": {"field": "v", "type": "quantitative", "scale": {"domain": [-1,8], "range": [44,20], "nice": false, "zero": false}}}}
            ]
          }
        ]
      },
      {
        "width": 198, "height": 68,
        "layer": [
          {"data": {"name": "lim"}, "mark": {"type": "rule", "color": "#e02424", "strokeWidth": 2, "strokeDash": [6,4]}, "encoding": {"y": {"field": "v", "type": "quantitative", "scale": {"domain": [-1,31.5], "nice": false, "zero": false}, "axis": {"title": "Position error [m]", "values": [0,10,20,30], "tickCount": 20, "format": "d", "titlePadding": 12.1}}}},
          {"data": {"name": "f_sig"}, "mark": {"type": "line", "color": "#ff8c1f", "strokeWidth": 2, "strokeDash": [7,3,1.5,3]}, "encoding": {"x": {"field": "t", "type": "quantitative", "scale": {"domain": [1,60], "nice": false, "zero": false}, "axis": {"title": ["Time [s]","(f)"], "values": [10,20,30,40,50,60], "tickCount": 20, "labelOverlap": false, "labelPadding": 1.5, "titlePadding": 1.5, "titleLineHeight": 11}}, "y": {"field": "v", "type": "quantitative", "scale": {"domain": [-1,31.5], "nice": false, "zero": false}}}},
          {"data": {"name": "f_err"}, "mark": {"type": "line", "color": "#8cc653", "strokeWidth": 1.5}, "encoding": {"x": {"field": "t", "type": "quantitative", "scale": {"domain": [1,60], "nice": false, "zero": false}}, "y": {"field": "v", "type": "quantitative", "scale": {"domain": [-1,31.5], "nice": false, "zero": false}}}},
          {"data": {"name": "f_err"}, "mark": {"type": "point", "filled": true, "size": 40, "opacity": 1, "color": "#8cc653"}, "encoding": {"x": {"field": "t", "type": "quantitative", "scale": {"domain": [1,60], "nice": false, "zero": false}}, "y": {"field": "v", "type": "quantitative", "scale": {"domain": [-1,31.5], "nice": false, "zero": false}}}}
        ]
      }
    ]
  }
]
}
